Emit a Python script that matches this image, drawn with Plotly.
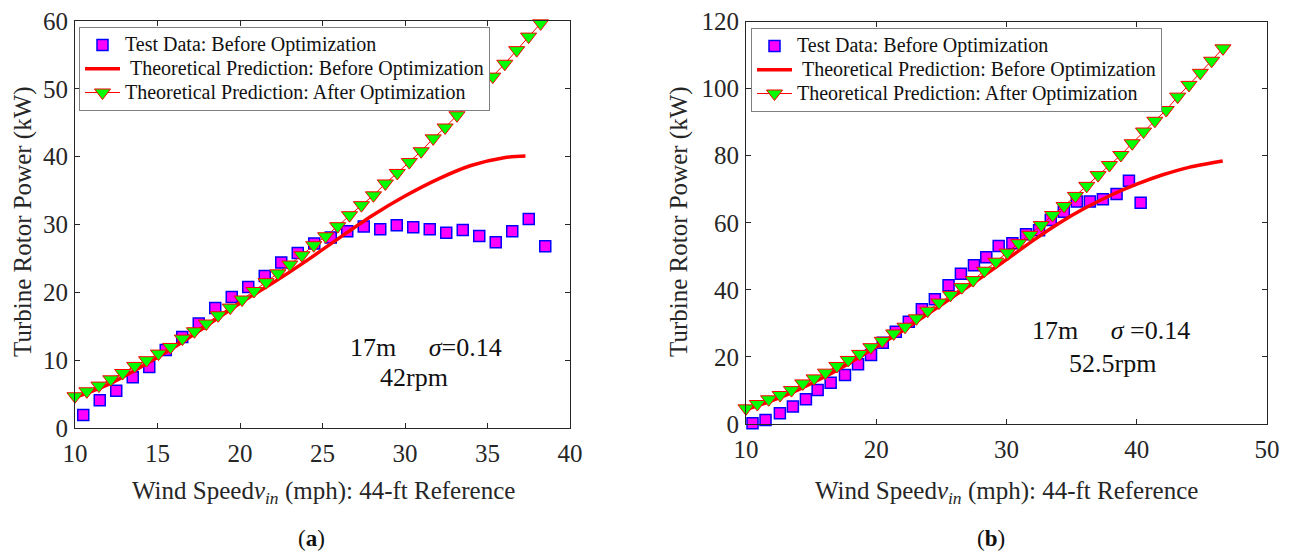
import plotly.graph_objects as go

# ---------------- data ----------------
# (a) 42 rpm
a_test_x = [10.5, 11.5, 12.5, 13.5, 14.5, 15.5, 16.5, 17.5, 18.5, 19.5, 20.5, 21.5, 22.5, 23.5,
            24.5, 25.5, 26.5, 27.5, 28.5, 29.5, 30.5, 31.5, 32.5, 33.5, 34.5, 35.5, 36.5, 37.5, 38.5]
a_test_y = [1.9, 4.1, 5.5, 7.5, 9.0, 11.5, 13.4, 15.4, 17.7, 19.3, 20.8, 22.4, 24.4, 25.8,
            27.2, 28.1, 29.0, 29.7, 29.3, 29.9, 29.6, 29.3, 28.8, 29.2, 28.3, 27.4, 29.0, 30.8, 26.8]

a_before_x = [10, 12, 14, 16, 18, 20, 22, 24, 26, 28, 30, 32, 34, 36, 37.3]
a_before_y = [4.5, 6.4, 9.0, 11.9, 15.1, 18.4, 21.4, 24.6, 28.0, 31.3, 34.2, 36.7, 38.7, 39.85, 40.1]

a_after_x = [10.00, 10.72, 11.45, 12.17, 12.89, 13.62, 14.34, 15.06, 15.79, 16.51,
             17.24, 17.96, 18.68, 19.41, 20.13, 20.85, 21.58, 22.30, 23.02, 23.75,
             24.47, 25.19, 25.92, 26.64, 27.36, 28.09, 28.81, 29.53, 30.26, 30.98,
             31.71, 32.43, 33.15, 33.88, 34.60, 35.32, 36.05, 36.77, 37.49, 38.22]
a_after_y = [4.68, 5.41, 6.25, 7.18, 8.11, 9.15, 9.99, 10.97, 11.95, 13.18,
             14.26, 15.4, 16.62, 17.75, 18.94, 20.2, 21.5, 22.8, 24.1, 25.47,
             26.95, 28.27, 29.75, 31.37, 32.85, 34.3, 36.05, 37.6, 39.2, 40.8,
             42.7, 44.3, 46.1, 47.85, 50.06, 51.8, 53.7, 55.7, 57.7, 59.65]

# (b) 52.5 rpm
b_test_x = [10.5, 11.5, 12.6, 13.6, 14.6, 15.5, 16.5, 17.6, 18.6, 19.6, 20.5, 21.5, 22.5, 23.5,
            24.5, 25.55, 26.5, 27.5, 28.45, 29.4, 30.45, 31.5, 32.5, 33.4, 34.4, 35.4, 36.4,
            37.4, 38.45, 39.4, 40.3]
b_test_y = [0.2, 1.2, 3.2, 5.2, 7.4, 10.1, 12.3, 14.6, 17.8, 20.6, 24.2, 27.5, 30.5, 34.2,
            37.2, 41.4, 44.8, 47.3, 49.7, 53.1, 53.9, 56.6, 57.8, 60.8, 63.3, 66.3, 66.3,
            67.0, 68.6, 72.5, 66.0]

b_before_x = [10, 12, 14, 16, 18, 20, 22, 24, 26, 28, 30, 32, 34, 36, 38, 40, 42, 44, 46.6]
b_before_y = [4.3, 7.0, 10.2, 14.0, 18.3, 23.0, 27.7, 32.9, 38.2, 43.5, 49.0, 54.6, 59.8,
              64.3, 68.2, 71.5, 74.3, 76.5, 78.4]

b_after_x = [10.00, 10.87, 11.74, 12.62, 13.49, 14.36, 15.23, 16.10, 16.98, 17.85,
             18.72, 19.59, 20.46, 21.34, 22.21, 23.08, 23.95, 24.82, 25.70, 26.57,
             27.44, 28.31, 29.18, 30.06, 30.93, 31.80, 32.67, 33.54, 34.42, 35.29,
             36.16, 37.03, 37.90, 38.78, 39.65, 40.52, 41.39, 42.26, 43.14, 44.01,
             44.88, 45.75, 46.62]
b_after_y = [4.67, 5.96, 7.36, 8.65, 10.1, 12.1, 13.6, 15.3, 17.3, 19.1,
             20.9, 22.9, 24.8, 27.0, 29.0, 31.5, 33.8, 36.2, 38.5, 40.8,
             42.9, 45.7, 48.4, 51.1, 53.9, 56.4, 59.3, 62.3, 65.0, 68.0,
             71.0, 74.2, 77.2, 80.2, 83.7, 87.2, 90.4, 93.6, 97.6, 101.1,
             104.7, 108.3, 112.0]

a_xticks = [10, 15, 20, 25, 30, 35, 40]
a_yticks = [0, 10, 20, 30, 40, 50, 60]
b_xticks = [10, 20, 30, 40, 50]
b_yticks = [0, 20, 40, 60, 80, 100, 120]

names = ["Test Data: Before Optimization",
         "\u00a0Theoretical Prediction: Before Optimization",
         "Theoretical Prediction: After Optimization"]

# ---------------- layout helpers ----------------
W, H = 1290, 554
def fx(p): return p / W
def fy(p): return 1 - p / H

FONT = "Liberation Serif"
AX = "#262626"
LEG_TXT = 20

fig = go.Figure()

def add_panel(xa, ya, lg, tx, ty, bx, by, ax_, ay_):
    span = lambda s: '<span style="font-size:%dpx">%s</span>' % (LEG_TXT, s)
    fig.add_trace(go.Scatter(
        x=tx, y=ty, mode="markers", name=span(names[0]), legend=lg, xaxis=xa, yaxis=ya,
        cliponaxis=False,
        marker=dict(symbol="square", size=11, color="#FF00FF",
                    line=dict(color="#0000FF", width=1.5))))
    fig.add_trace(go.Scatter(
        x=bx, y=by, mode="lines", name=span(names[1]), legend=lg, xaxis=xa, yaxis=ya,
        cliponaxis=False,
        line=dict(color="#FF0000", width=3.5, shape="spline", smoothing=0.8)))
    fig.add_trace(go.Scatter(
        x=ax_, y=ay_, mode="lines+markers", name=span(names[2]), legend=lg, xaxis=xa, yaxis=ya,
        cliponaxis=False,
        line=dict(color="#FF0000", width=1),
        marker=dict(symbol="triangle-down", size=14, color="#00FF00",
                    line=dict(color="#FF0000", width=1))))

add_panel("x", "y", "legend", a_test_x, a_test_y, a_before_x, a_before_y, a_after_x, a_after_y)
add_panel("x2", "y2", "legend2", b_test_x, b_test_y, b_before_x, b_before_y, b_after_x, b_after_y)

axis_common = dict(showgrid=False, zeroline=False, showline=True, linecolor=AX, linewidth=1,
                   mirror="ticks", ticks="inside", ticklen=5, tickcolor=AX, tickwidth=1,
                   automargin=False,
                   tickfont=dict(family=FONT, size=25, color=AX))

legend_common = dict(xanchor="left", yanchor="top", bgcolor="white",
                     bordercolor="#808080", borderwidth=1,
                     font=dict(family=FONT, size=16, color="#111111"),
                     tracegroupgap=0, itemwidth=35)

fig.update_layout(
    width=W, height=H, margin=dict(l=0, r=0, t=0, b=0, autoexpand=False),
    paper_bgcolor="white", plot_bgcolor="white",
    xaxis=dict(domain=[fx(75), fx(570)], range=[10, 40], tickvals=a_xticks, anchor="y",
               ticklabelstandoff=3, **axis_common),
    yaxis=dict(domain=[fy(428), fy(21)], range=[0, 60], tickvals=a_yticks, anchor="x",
               ticklabelstandoff=1, **axis_common),
    xaxis2=dict(domain=[fx(746), fx(1267)], range=[10, 50], tickvals=b_xticks, anchor="y2",
                ticklabelstandoff=3, **axis_common),
    yaxis2=dict(domain=[fy(424), fy(21.5)], range=[0, 120], tickvals=b_yticks, anchor="x2",
                ticklabelstandoff=1, **axis_common),
    legend=dict(x=fx(79), y=fy(27), **legend_common),
    legend2=dict(x=fx(751), y=fy(28), **legend_common),
    showlegend=True,
)

def note(text, x, y, size=25, angle=0, color=AX):
    fig.add_annotation(text=text, x=fx(x), y=fy(y), xref="paper", yref="paper",
                       showarrow=False, xanchor="center", yanchor="middle", textangle=angle,
                       font=dict(family=FONT, size=size, color=color))

xtitle = "Wind Speed<i>v</i><sub><i>in</i></sub>\u00a0(mph): 44-ft Reference"
ytitle = "Turbine Rotor Power (kW)"
note(xtitle, 323, 492)
note(xtitle, 1006, 492)
note(ytitle, 23, 222, angle=-90)
note(ytitle, 679, 222, angle=-90)

note("17m\u00a0\u00a0\u00a0\u00a0\u00a0<i>σ</i>=0.14", 426, 347, size=26, color="#111111")
note("42rpm", 414, 377, size=26, color="#111111")
note("17m\u00a0\u00a0\u00a0\u00a0\u00a0<i>σ</i>\u00a0=0.14", 1111, 330, size=26, color="#111111")
note("52.5rpm", 1112, 363, size=26, color="#111111")

note("(<b>a</b>)", 311, 538, size=23, color="#111111")
note("(<b>b</b>)", 991, 538, size=23, color="#111111")

fig.write_html("out.html")
